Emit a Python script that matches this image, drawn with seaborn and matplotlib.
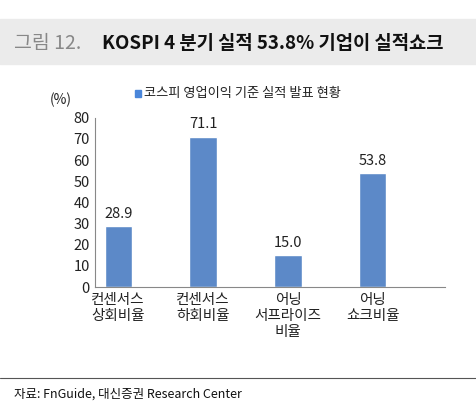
import matplotlib
matplotlib.use("Agg")
import matplotlib.pyplot as plt
import seaborn as sns
import pandas as pd

categories = ["컨센서스\n상회비율", "컨센서스\n하회비율", "어닝\n서프라이즈\n비율", "어닝\n쇼크비율"]
values = [28.9, 71.1, 15.0, 53.8]
series_name = "코스피 영업이익 기준 실적 발표 현황"

sns.set_theme(style="white")
plt.rcParams['font.family'] = ['Noto Sans CJK KR', 'DejaVu Sans']

df = pd.DataFrame({"cat": categories, "val": values, "s": series_name})
fig = plt.figure(figsize=(4.76, 4.13), dpi=100)
ax = fig.add_axes([0.2, 0.305, 0.735, 0.41])
sns.barplot(data=df, x="cat", y="val", hue="s", palette=["#4a86da"], width=0.32, ax=ax, legend=False)
for i, v in enumerate(values):
    ax.text(i, v + 2.5, f"{v:.1f}", ha="center", va="bottom", fontsize=10.5, color="#222")
ax.set_ylim(0, 80)
ax.set_yticks(range(0, 81, 10))
ax.set_xlim(-0.27, 3.85)
ax.set_xlabel(""); ax.set_ylabel("")
ax.tick_params(axis="both", labelsize=10.5, colors="#222", length=0, pad=4)
for s in ["top", "right"]:
    ax.spines[s].set_visible(False)
for s in ["left", "bottom"]:
    ax.spines[s].set_color("#888"); ax.spines[s].set_linewidth(0.8)
ax.text(-0.13, 1.08, "(%)", transform=ax.transAxes, fontsize=10, color="#222")
# legend
fig.patches.append(plt.Rectangle((0.283, 0.766), 0.013, 0.016, transform=fig.transFigure, color="#4a86da"))
fig.text(0.302, 0.774, series_name, fontsize=9.5, color="#222", va="center")

# title band
fig.patches.append(plt.Rectangle((0.0, 0.845), 1.0, 0.11, transform=fig.transFigure, color="#ebebeb", zorder=0))
fig.text(0.03, 0.895, "그림 12.", fontsize=14, color="#888", va="center")
fig.text(0.215, 0.895, "KOSPI 4 분기 실적 53.8% 기업이 실적쇼크", fontsize=13.5, color="#111", weight="bold", va="center")
# bottom line and source
fig.lines.append(plt.Line2D([0.0, 1.0], [0.085, 0.085], transform=fig.transFigure, color="#555", lw=0.8))
fig.text(0.03, 0.045, "자료: FnGuide, 대신증권 Research Center", fontsize=9, color="#111", va="center")
fig.savefig("out.png", dpi=100)
